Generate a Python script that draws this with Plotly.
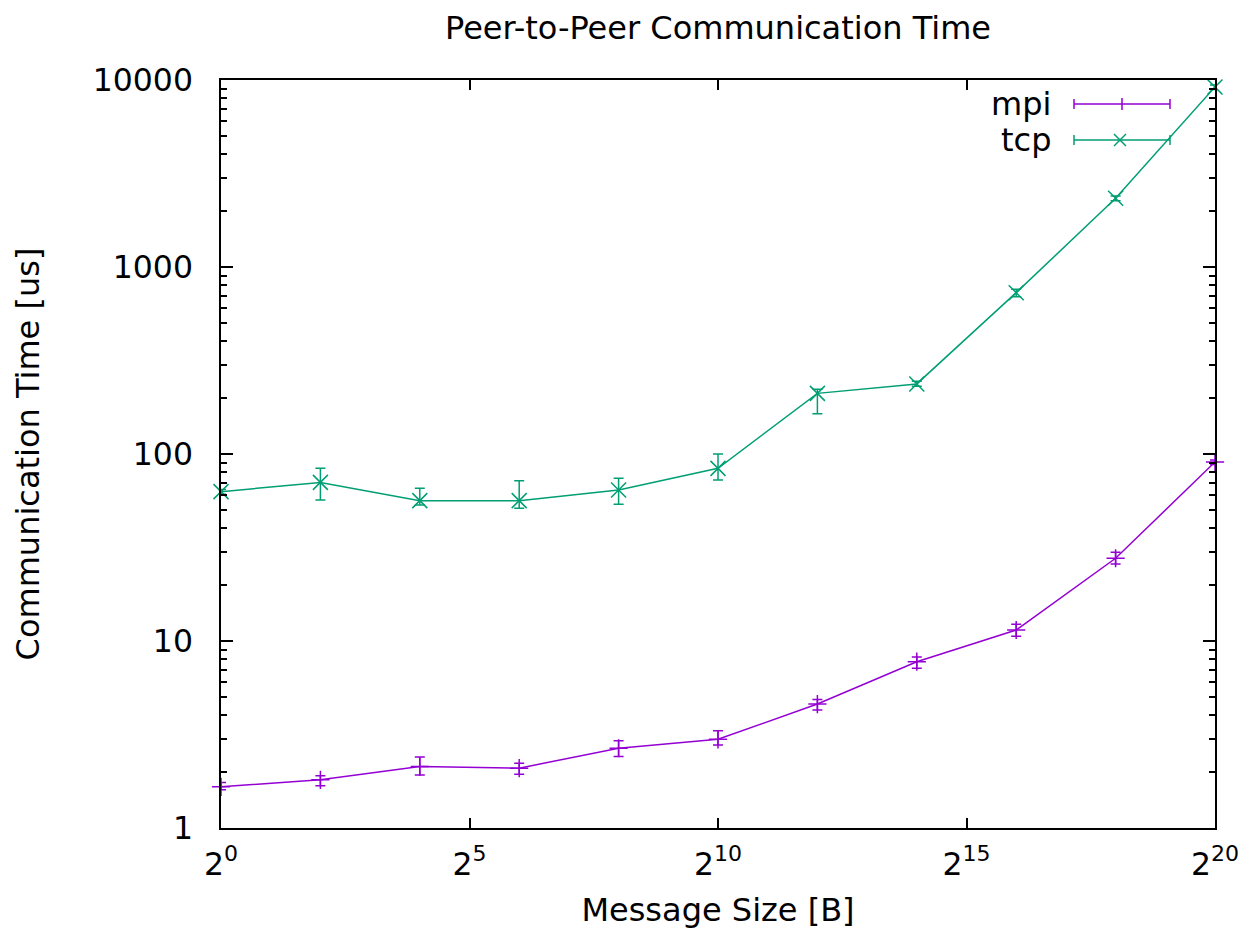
import plotly.graph_objects as go

# Message sizes in bytes (2^0 .. 2^20, every other power of two)
sizes = [1, 4, 16, 64, 256, 1024, 4096, 16384, 65536, 262144, 1048576]

# MPI round times [us]: mean, upper and lower error bounds
mpi_mean = [1.66, 1.81, 2.13, 2.09, 2.67, 2.98, 4.60, 7.75, 11.45, 27.7, 90.6]
mpi_hi = [1.75, 1.90, 2.40, 2.22, 2.93, 3.31, 4.87, 8.20, 12.3, 29.8, 93.0]
mpi_lo = [1.60, 1.68, 1.92, 1.94, 2.41, 2.78, 4.27, 7.15, 10.6, 25.8, 88.0]

# TCP round times [us]: mean, upper and lower error bounds
tcp_mean = [62.9, 70.5, 56.3, 56.3, 64.2, 83.8, 211, 237, 729, 2330, 9180]
tcp_hi = [64.5, 83.8, 65.6, 72.0, 74.1, 100, 222, 245, 760, 2400, 9400]
tcp_lo = [61.0, 56.8, 53.4, 51.2, 53.8, 72.6, 164, 230, 693, 2260, 8900]

x_tickvals = [1, 32, 1024, 32768, 1048576]
x_ticktext = ["2<sup>0</sup>", "2<sup>5</sup>", "2<sup>10</sup>", "2<sup>15</sup>", "2<sup>20</sup>"]
y_tickvals = [1, 10, 100, 1000, 10000]
y_ticktext = ["1", "10", "100", "1000", "10000"]
y_minor = [m * d for d in (1, 10, 100, 1000) for m in range(2, 10)]

MPI_COLOR = "#9400D3"
TCP_COLOR = "#009E73"
FONT = "DejaVu Sans"
TEXT_SIZE = 32
TICK_SIZE = 31.5

W, H = 1245, 929
L, R, T, B = 221, 30, 80, 101


def trace(name, mean, hi, lo, color, symbol, size):
    return go.Scatter(
        x=sizes, y=mean, name=name, mode="lines+markers",
        line=dict(color=color, width=1.5),
        marker=dict(symbol=symbol, size=size, color=color,
                    line=dict(color=color, width=1.5)),
        error_y=dict(type="data", symmetric=False,
                     array=[h - m for h, m in zip(hi, mean)],
                     arrayminus=[m - l for m, l in zip(mean, lo)],
                     color=color, thickness=1.5, width=5),
        cliponaxis=False, showlegend=False,
    )


fig = go.Figure()
fig.add_trace(trace("mpi", mpi_mean, mpi_hi, mpi_lo, MPI_COLOR, "cross-thin", 13))
fig.add_trace(trace("tcp", tcp_mean, tcp_hi, tcp_lo, TCP_COLOR, "x-thin", 15))

# Key in the upper right corner, drawn as line samples with error caps
pw, ph = W - L - R, H - T - B


def px(xp):
    return (xp - L) / pw


def py(yp):
    return (H - B - yp) / ph


shapes = []
annotations = []
for label, color, yrow, kind in (("mpi", MPI_COLOR, 104, "plus"), ("tcp", TCP_COLOR, 140, "x")):
    seg = dict(type="line", xref="paper", yref="paper", line=dict(color=color, width=1.5))
    shapes.append(dict(seg, x0=px(1074), x1=px(1170), y0=py(yrow), y1=py(yrow)))
    for xc in (1074, 1170):
        shapes.append(dict(seg, x0=px(xc), x1=px(xc), y0=py(yrow - 5), y1=py(yrow + 5)))
    if kind == "plus":
        shapes.append(dict(seg, x0=px(1122), x1=px(1122), y0=py(yrow - 6), y1=py(yrow + 6)))
    else:
        shapes.append(dict(seg, x0=px(1114), x1=px(1126), y0=py(yrow - 6), y1=py(yrow + 6)))
        shapes.append(dict(seg, x0=px(1114), x1=px(1126), y0=py(yrow + 6), y1=py(yrow - 6)))
    annotations.append(dict(text=label, xref="paper", yref="paper",
                            x=px(1053), y=py(yrow), xanchor="right", yanchor="middle",
                            showarrow=False, font=dict(family=FONT, size=TEXT_SIZE, color="black")))

axis_common = dict(
    showgrid=False, zeroline=False, showline=True, linecolor="black", linewidth=1.5,
    mirror="ticks", ticks="inside", tickcolor="black", tickwidth=1.5,
    tickfont=dict(family=FONT, size=TICK_SIZE, color="black"),
    automargin=False,
)

fig.update_layout(
    width=W, height=H,
    margin=dict(l=L, r=R, t=T, b=B, pad=0),
    paper_bgcolor="white", plot_bgcolor="white",
    title=dict(text="Peer-to-Peer Communication Time", x=0.5, xref="paper",
               y=1 - 28 / H, yanchor="middle",
               font=dict(family=FONT, size=TEXT_SIZE, color="black")),
    xaxis=dict(axis_common, type="log", range=[0, 6.0206],
               tickmode="array", tickvals=x_tickvals, ticktext=x_ticktext,
               ticklen=10, ticklabelstandoff=7,
               title=dict(text="Message Size [B]", standoff=18,
                          font=dict(family=FONT, size=TEXT_SIZE, color="black"))),
    yaxis=dict(axis_common, type="log", range=[0, 4],
               tickmode="array", tickvals=y_tickvals, ticktext=y_ticktext,
               ticklen=12, ticklabelstandoff=20,
               minor=dict(tickmode="array", tickvals=y_minor, ticks="inside",
                          ticklen=6, tickcolor="black", tickwidth=1.5),
               title=dict(text="Communication Time [us]", standoff=44,
                          font=dict(family=FONT, size=TEXT_SIZE, color="black"))),
    shapes=shapes, annotations=annotations,
)

fig.write_html("out.html")
